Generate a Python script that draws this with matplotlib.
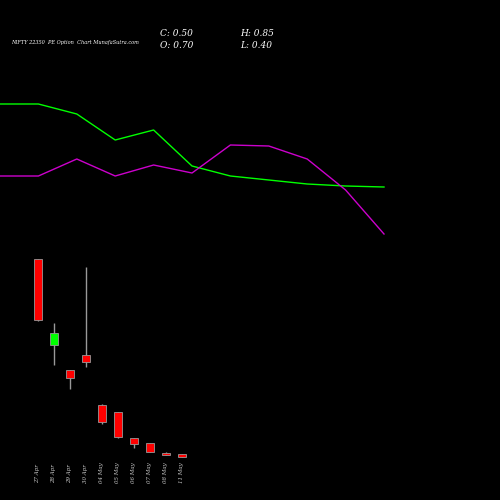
import matplotlib
matplotlib.use("Agg")
import matplotlib.pyplot as plt

dates = ["27 Apr", "28 Apr", "29 Apr", "30 Apr", "04 May", "05 May", "06 May", "07 May", "08 May", "11 May"]
# values in chart units (higher = up)
opens  = [241, 155, 130, 145, 95, 88, 62, 57, 47, 46]
closes = [180, 167, 122, 138, 78, 63, 56, 48, 45, 43]
highs  = [241, 177, 130, 233, 96, 88, 62, 57, 48, 46]
lows   = [179, 135, 111, 133, 76, 62, 52, 48, 45, 43]
green_line = [396, 396, 386, 360, 370, 334, 324, 320, 316, 314, 313]
magenta_line = [324, 324, 341, 324, 335, 327, 355, 354, 341, 310, 266]

fig = plt.figure(figsize=(5, 5), dpi=100, facecolor="black")
ax = fig.add_axes([0, 0, 1, 1], facecolor="black")
ax.set_xlim(-38/16, -38/16 + 500/16)
ax.set_ylim(0, 500)
ax.axis("off")
for i in range(len(dates)):
    c = "#00ff00" if closes[i] > opens[i] else "#ff0000"
    ax.vlines(i, lows[i], highs[i], color="#999999", lw=1, zorder=1)
    lo, hi = min(opens[i], closes[i]), max(opens[i], closes[i])
    ax.bar(i, max(hi - lo, 1), bottom=lo, width=0.55, color=c, edgecolor="#999999", lw=0.6, zorder=2)
    ax.text(i, 17, dates[i], rotation=90, color="#cccccc", fontsize=4, fontstyle="italic",
            family="serif", ha="center", va="bottom")

ax2 = fig.add_axes([0, 0, 1, 1], facecolor="none")
ax2.set_xlim(0, 500/38.4)
ax2.set_ylim(0, 500)
ax2.axis("off")
xs = list(range(len(green_line)))
ax2.plot(xs, green_line, color="#00ff00", lw=1)
ax2.plot(xs, magenta_line, color="#cc00cc", lw=1)

fig.text(0.022, 0.912, "NIFTY 22350  PE Option  Chart MunafaSutra.com", color="white", fontsize=3.6,
         fontstyle="italic", family="serif")
fig.text(0.32, 0.928, "C: 0.50", color="white", fontsize=6.5, fontstyle="italic", family="serif")
fig.text(0.32, 0.905, "O: 0.70", color="white", fontsize=6.5, fontstyle="italic", family="serif")
fig.text(0.48, 0.928, "H: 0.85", color="white", fontsize=6.5, fontstyle="italic", family="serif")
fig.text(0.48, 0.905, "L: 0.40", color="white", fontsize=6.5, fontstyle="italic", family="serif")
fig.savefig("out.png", dpi=100, facecolor="black")
